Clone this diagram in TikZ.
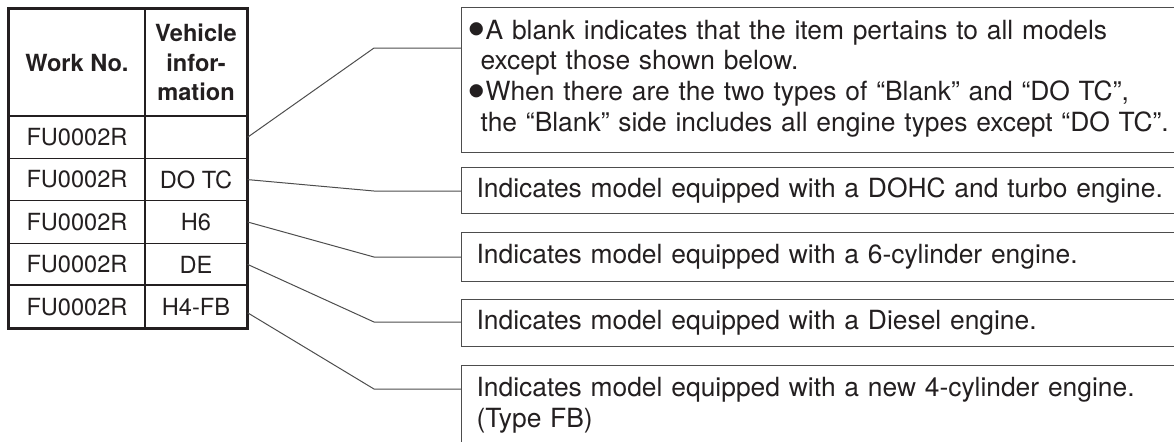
\documentclass[tikz,border=0pt]{standalone}
\usepackage{fontspec}
\setmainfont{TeX Gyre Heros}
\usepackage{tikz}
\usetikzlibrary{positioning}
\definecolor{ink}{HTML}{231F20}
\definecolor{rulegray}{HTML}{4D4D4D}
\newcommand{\itemdot}{\makebox[4.5pt][l]{\hspace*{-4.75pt}\raisebox{-4.3pt}{\scalebox{2}{\textbullet}}}}
\tikzset{
  cell/.style={
    draw=ink, line width=0.65pt, inner sep=0pt,
    minimum height=21.2pt, text=ink,
    font=\fontsize{11.8}{14.75}\selectfont
  },
  wcol/.style={cell, minimum width=68pt},
  vcol/.style={cell, minimum width=51pt},
  head/.style={minimum height=53.5pt, align=center,
    font=\fontsize{11.8}{14.75}\selectfont\bfseries},
  note/.style={
    draw=rulegray, line width=0.6pt, anchor=north west,
    text width=360pt, align=left, inner xsep=7.5pt, inner ysep=0pt,
    text=ink, font=\fontsize{13.2}{15.4}\selectfont
  },
  lead/.style={draw=rulegray, line width=0.5pt}
}

\begin{document}
\begin{tikzpicture}[x=0.5pt,y=-0.5pt]
        \useasboundingbox (0,0) rectangle (1174,441);

        \node [wcol, head] (W0) at (77,62.5) {Work No.};
        \node [vcol, head] (V0) at (196,62.5) {Vehicle\\infor-\\mation};
        \node [wcol, on grid, below=37.35pt of W0] (W1) {FU0002R};
        \node [vcol, on grid, below=37.35pt of V0] (V1) {};
        \node [wcol, on grid, below=21.2pt of W1] (W2) {FU0002R};
        \node [vcol, on grid, below=21.2pt of V1] (V2) {DO TC};
        \node [wcol, on grid, below=21.2pt of W2] (W3) {FU0002R};
        \node [vcol, on grid, below=21.2pt of V2] (V3) {H6};
        \node [wcol, on grid, below=21.2pt of W3] (W4) {FU0002R};
        \node [vcol, on grid, below=21.2pt of V3] (V4) {DE};
        \node [wcol, on grid, below=21.2pt of W4] (W5) {FU0002R};
        \node [vcol, on grid, below=21.2pt of V4] (V5) {H4-FB};
        \draw [ink, line width=1pt] (W0.north west) rectangle (V5.south east);
        \draw [ink, line width=1pt] (W5.north west) -- (V5.north east);

        \node [note, minimum height=72.5pt] (N1) at (461,7) {\itemdot A blank indicates that the item pertains to all models\\\hspace*{2pt}except those shown below.\\\itemdot When there are the two types of “Blank” and “DO TC”,\\\hspace*{2pt}the “Blank” side includes all engine types except “DO TC”.\rule[-4.5pt]{0pt}{0pt}};
        \node [note, minimum height=23pt] (N2) at (461,167) {Indicates model equipped with a DOHC and turbo engine.};
        \node [note, minimum height=24.5pt] (N3) at (461,232) {Indicates model equipped with a 6-cylinder engine.};
        \node [note, minimum height=23.5pt] (N4) at (461,299) {Indicates model equipped with a Diesel engine.};
        \node [note, inner ysep=6pt] (N5) at (461,365) {Indicates model equipped with a new 4-cylinder engine.\\(Type FB)\rule[-40pt]{0pt}{0pt}};

        \coordinate (K1) at (374,48);
        \coordinate (K2) at (374,191);
        \coordinate (K3) at (374,257);
        \coordinate (K4) at (374,322);
        \coordinate (K5) at (374,389);
        \draw [lead] (V1.east) -- (K1) -- (K1 -| N1.west);
        \draw [lead] (V2.east) -- (K2) -- (K2 -| N2.west);
        \draw [lead] (V3.east) -- (K3) -- (K3 -| N3.west);
        \draw [lead] (V4.east) -- (K4) -- (K4 -| N4.west);
        \draw [lead] ([yshift=-3pt]V5.east) -- (K5) -- (K5 -| N5.west);
      \end{tikzpicture}
\end{document}
